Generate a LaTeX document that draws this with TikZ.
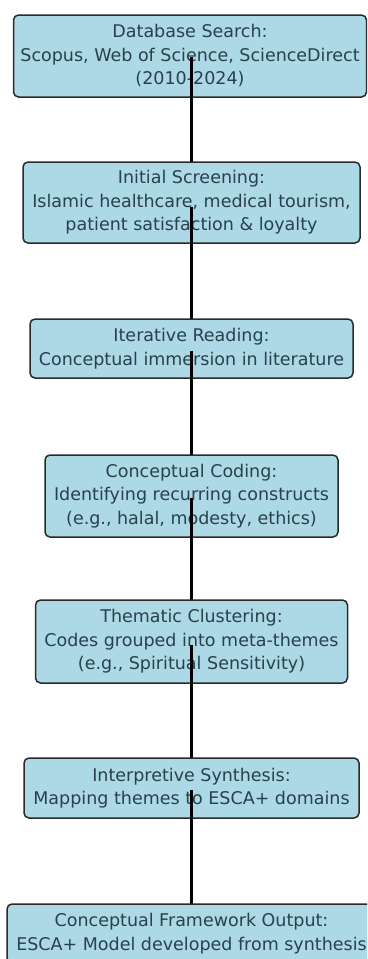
\documentclass[tikz,border=0pt]{standalone}
\usepackage{fontspec}
\setmainfont{DejaVu Sans}
\definecolor{boxblue}{HTML}{ADD8E6}
\definecolor{textgrey}{HTML}{28414B}
\definecolor{edgegrey}{HTML}{2A2A2A}
\tikzset{
  stepbox/.style={draw=edgegrey, line width=1.5pt, fill=boxblue, rounded corners=5pt,
    text=textgrey, align=center, inner sep=0pt,
    font=\fontsize{17.5}{23.5}\selectfont},
  link/.style={line width=2.8pt, draw=black}
}
\begin{document}
\begin{tikzpicture}[x=1pt,y=-1pt]
\useasboundingbox (0,0) rectangle (367,959);
\clip (0,0) rectangle (367,959);
\coordinate (c1) at (190,56);
\coordinate (c2) at (191.5,202.5);
\coordinate (c3) at (191.5,348.5);
\coordinate (c4) at (191.5,496);
\coordinate (c5) at (191.5,641.5);
\coordinate (c6) at (191.5,788);
\coordinate (c7) at (191.5,933.5);
\coordinate (t7) at (191.5,906);

\node[stepbox, minimum width=353pt, minimum height=82pt] (b1) at (c1)
  {Database Search:\\Scopus, Web of Science, ScienceDirect\\(2010-2024)};
\draw[link] ([xshift=1.5pt,yshift=-1pt]b1.center) -- (c2);
\node[stepbox, minimum width=337pt, minimum height=81pt] (b2) at (c2)
  {Initial Screening:\\Islamic healthcare, medical tourism,\\patient satisfaction \& loyalty};
\draw[link] ([yshift=-4pt]b2.center) -- (c3);
\node[stepbox, minimum width=323pt, minimum height=59pt] (b3) at (c3)
  {Iterative Reading:\\Conceptual immersion in literature};
\draw[link] ([yshift=-2pt]b3.center) -- (c4);
\node[stepbox, minimum width=293pt, minimum height=82pt] (b4) at (c4)
  {Conceptual Coding:\\Identifying recurring constructs\\(e.g., halal, modesty, ethics)};
\draw[link] ([yshift=-2pt]b4.center) -- (c5);
\node[stepbox, minimum width=312pt, minimum height=83pt] (b5) at (c5)
  {Thematic Clustering:\\Codes grouped into meta-themes\\(e.g., Spiritual Sensitivity)};
\draw[link] ([yshift=-3pt]b5.center) -- (c6);
\node[stepbox, minimum width=335pt, minimum height=60pt] (b6) at (c6)
  {Interpretive Synthesis:\\Mapping themes to ESCA+ domains};
\draw[link] ([yshift=-2pt]b6.center) -- (t7);
\node[stepbox, minimum width=369pt, minimum height=59pt] (b7) at (c7)
  {Conceptual Framework Output:\\ESCA+ Model developed from synthesis};
\end{tikzpicture}
\end{document}
